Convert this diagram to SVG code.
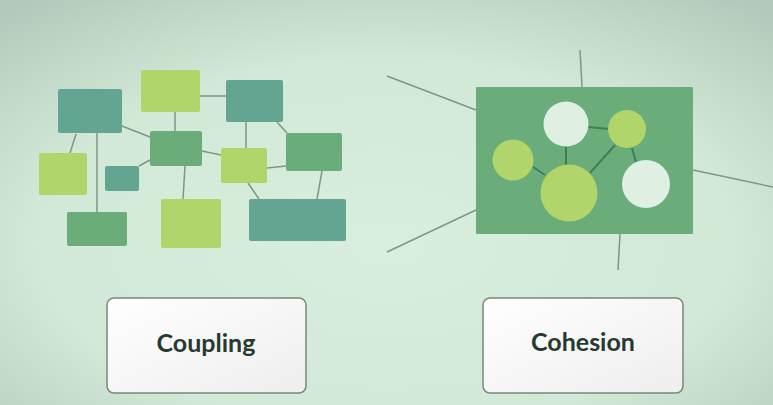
<svg xmlns="http://www.w3.org/2000/svg" width="773" height="405" viewBox="0 0 773 405">
<defs>
<radialGradient id="bg" cx="0.5" cy="0.6" r="0.75">
<stop offset="0" stop-color="#d9eedd"/>
<stop offset="0.6" stop-color="#d2e9d7"/>
<stop offset="1" stop-color="#b3c9bb"/>
</radialGradient>
<linearGradient id="btn" x1="0" y1="0" x2="1" y2="1">
<stop offset="0" stop-color="#ffffff"/>
<stop offset="1" stop-color="#eeeeef"/>
</linearGradient>
<style>
.teal{fill:#64a591}
.green{fill:#6aad7b}
.lime{fill:#b1d56a}
.pale{fill:#dff0e3}
.ln{stroke:#7e958a;stroke-width:1.5;fill:none}
.iln{stroke:#3f7f52;stroke-width:2;fill:none}
.btn{fill:url(#btn);stroke:#788878;stroke-width:1.5}
.lbl{font-family:Lato,"Open Sans",sans-serif;font-weight:700;font-size:25px;fill:#253a30;text-anchor:middle}
</style>
</defs>
<rect width="773" height="405" fill="url(#bg)"/>
<g id="connectors">
<line class="ln" x1="76" y1="134" x2="70" y2="153"/>
<line class="ln" x1="97" y1="133" x2="97" y2="212"/>
<line class="ln" x1="122" y1="126" x2="150" y2="137"/>
<line class="ln" x1="175" y1="112" x2="175" y2="131"/>
<line class="ln" x1="200" y1="96" x2="226" y2="96"/>
<line class="ln" x1="139" y1="166" x2="150" y2="160"/>
<line class="ln" x1="185" y1="166" x2="183" y2="199"/>
<line class="ln" x1="202" y1="151" x2="221" y2="155"/>
<line class="ln" x1="246" y1="122" x2="246" y2="148"/>
<line class="ln" x1="277" y1="122" x2="287" y2="133"/>
<line class="ln" x1="267" y1="168" x2="286" y2="166"/>
<line class="ln" x1="248" y1="183" x2="259" y2="199"/>
<line class="ln" x1="322" y1="171" x2="317" y2="199"/>
<line class="ln" x1="580" y1="50" x2="582" y2="87"/>
<line class="ln" x1="387" y1="76" x2="476" y2="110"/>
<line class="ln" x1="387" y1="252" x2="476" y2="210"/>
<line class="ln" x1="693" y1="170" x2="773" y2="187"/>
<line class="ln" x1="620" y1="234" x2="618" y2="270"/>
</g>
<g id="n1"><rect class="teal" x="58" y="89" width="64" height="44" rx="2"/></g>
<g id="n2"><rect class="lime" x="141" y="70" width="59" height="42" rx="2"/></g>
<g id="n3"><rect class="teal" x="226" y="80" width="57" height="42" rx="2"/></g>
<g id="n4"><rect class="green" x="150" y="131" width="52" height="35" rx="2"/></g>
<g id="n5"><rect class="lime" x="39" y="153" width="48" height="42" rx="2"/></g>
<g id="n6"><rect class="teal" x="105" y="166" width="34" height="25" rx="2"/></g>
<g id="n7"><rect class="lime" x="221" y="148" width="46" height="35" rx="2"/></g>
<g id="n8"><rect class="green" x="286" y="133" width="56" height="38" rx="2"/></g>
<g id="n9"><rect class="green" x="67" y="212" width="60" height="34" rx="2"/></g>
<g id="n10"><rect class="lime" x="161" y="199" width="60" height="49" rx="2"/></g>
<g id="n11"><rect class="teal" x="249" y="199" width="97" height="42" rx="2"/></g>
<g id="module">
<rect class="green" x="476" y="87" width="217" height="147" rx="1"/>
<line class="iln" x1="566" y1="146" x2="566" y2="166"/>
<line class="iln" x1="588" y1="127" x2="609" y2="129"/>
<line class="iln" x1="615" y1="145" x2="590" y2="173"/>
<line class="iln" x1="632" y1="148" x2="636" y2="162"/>
<line class="iln" x1="533" y1="167" x2="545" y2="175"/>
<circle class="pale" cx="566" cy="124" r="22.5"/>
<circle class="lime" cx="627" cy="129" r="19"/>
<circle class="lime" cx="513" cy="160" r="20.5"/>
<circle class="lime" cx="569" cy="193" r="28.5"/>
<circle class="pale" cx="646" cy="184" r="24"/>
</g>
<g id="coupling">
<rect class="btn" x="107" y="298" width="199" height="95" rx="7"/>
<text class="lbl" x="206" y="352">Coupling</text>
</g>
<g id="cohesion">
<rect class="btn" x="483" y="298" width="200" height="95" rx="7"/>
<text class="lbl" x="583" y="351">Cohesion</text>
</g>
</svg>
